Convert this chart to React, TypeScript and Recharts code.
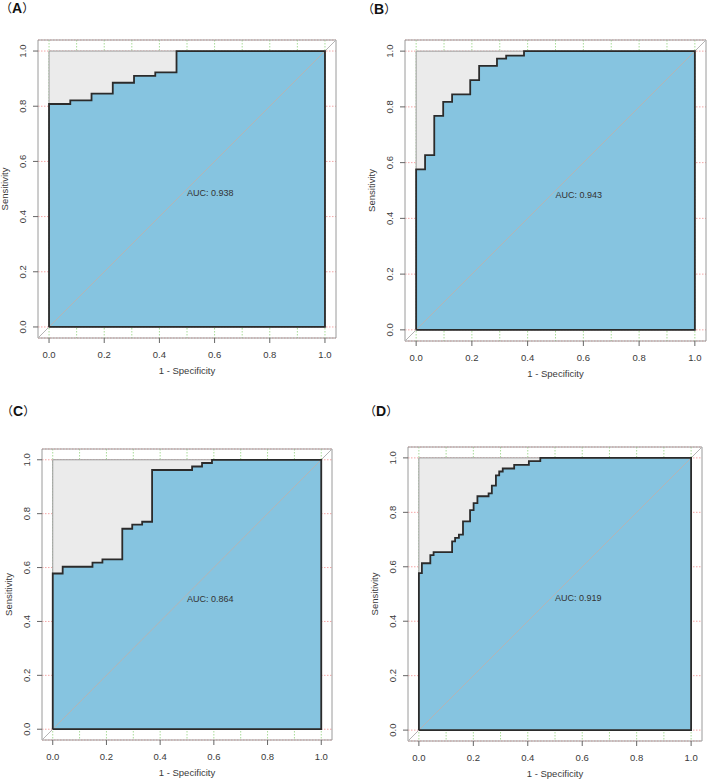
import {
  ComposedChart, Area, Line, XAxis, YAxis, CartesianGrid, ReferenceArea, ReferenceDot,
} from 'recharts'

const FONT = '"Liberation Sans", Arial, Helvetica, sans-serif'
const BLUE = '#86C4E0'
const GREY_FILL = '#EBEBEB'

// ROC points (1 - specificity, sensitivity)
const A_FPR = [0, 0.077, 0.154, 0.231, 0.308, 0.385, 0.462, 1]
const A_TPR = [0.808, 0.821, 0.846, 0.885, 0.910, 0.923, 1, 1]

const B_FPR = [0, 0.032, 0.065, 0.097, 0.129, 0.194, 0.226, 0.290, 0.323, 0.387, 1]
const B_TPR = [0.576, 0.627, 0.768, 0.818, 0.845, 0.896, 0.947, 0.973, 0.984, 1, 1]

const C_FPR = [0, 0.037, 0.148, 0.185, 0.259, 0.296, 0.333, 0.370, 0.519, 0.556, 0.593, 1]
const C_TPR = [0.578, 0.603, 0.618, 0.630, 0.744, 0.759, 0.770, 0.962, 0.975, 0.988, 1, 1]

const D_FPR = [0, 0.011, 0.042, 0.054, 0.122, 0.133, 0.147, 0.162, 0.188, 0.201, 0.215, 0.256, 0.268, 0.283, 0.295, 0.308, 0.350, 0.404, 0.446, 1]
const D_TPR = [0.577, 0.613, 0.643, 0.654, 0.693, 0.706, 0.718, 0.767, 0.808, 0.834, 0.859, 0.870, 0.898, 0.936, 0.950, 0.961, 0.974, 0.988, 1, 1]

const AUC = ['0.938', '0.943', '0.864', '0.919']
const LABELS = ['A', 'B', 'C', 'D']

const AXIS_TICKS = [0, 0.2, 0.4, 0.6, 0.8, 1]
const FINE_TICKS = [0, 0.1, 0.2, 0.3, 0.4, 0.5, 0.6, 0.7, 0.8, 0.9, 1]
const DOMAIN: [number, number] = [-0.04, 1.04]

// unit square and chance diagonal
const SQUARE = [{ x: 0, y: 1 }, { x: 1, y: 1 }]
const SQUARE_EDGE = [{ x: 0, y: 0 }, { x: 0, y: 1 }, { x: 1, y: 1 }, { x: 1, y: 0 }, { x: 0, y: 0 }]
const DIAG = [{ x: DOMAIN[0], y: DOMAIN[0] }, { x: DOMAIN[1], y: DOMAIN[1] }]

// plot box for each panel (page px)
const BOXES = [
  { l: 38, t: 40, w: 298, h: 298 },
  { l: 405, t: 40, w: 301, h: 301 },
  { l: 42, t: 449, w: 290, h: 291 },
  { l: 408, t: 447, w: 294, h: 294 },
]
const TAGS = [
  { l: 0, t: 0 },
  { l: 362, t: 1 },
  { l: 1, t: 403 },
  { l: 364, t: 403 },
]

const YW = 45
const XH = 45
const M = { top: 5, right: 3, left: 0, bottom: 0 }

const XTick = (p: any) => (
  <text x={p.x} y={p.y + 13} textAnchor="middle" fontSize={9.5} fill="#3a3a3a" fontFamily={FONT}>
    {Number(p.payload.value).toFixed(1)}
  </text>
)

const YTick = (p: any) => {
  const cx = p.x - 5
  return (
    <text x={cx} y={p.y} transform={`rotate(-90, ${cx}, ${p.y})`} textAnchor="middle" fontSize={9.5} fill="#3a3a3a" fontFamily={FONT}>
      {Number(p.payload.value).toFixed(1)}
    </text>
  )
}

function RocPanel({ fpr, tpr, auc, box }: { fpr: number[]; tpr: number[]; auc: string; box: { l: number; t: number; w: number; h: number } }) {
  const pts = [{ x: 0, y: 0 }, ...fpr.map((x, i) => ({ x, y: tpr[i] }))]
  const outline = [...pts, { x: 1, y: 0 }, { x: 0, y: 0 }]
  const width = box.w + YW + M.right
  const height = box.h + M.top + XH

  return (
    <div style={{ position: 'absolute', left: box.l - YW, top: box.t - M.top }}>
      <ComposedChart width={width} height={height} margin={M}>
        <CartesianGrid horizontal={true} vertical={false} stroke="#F4A6A6" strokeDasharray="1.5 1.5" />
        <CartesianGrid horizontal={false} vertical={true} verticalValues={FINE_TICKS} stroke="#A8DC98" strokeDasharray="1.5 1.5" />
        <XAxis
          dataKey="x" type="number" domain={DOMAIN} allowDataOverflow ticks={AXIS_TICKS}
          height={XH} axisLine={false} tickSize={5} tickLine={{ stroke: '#666' }} tick={<XTick />}
          label={{
            content: (lp: any) => {
              const vb = lp.viewBox
              return (
                <text x={vb.x + vb.width / 2} y={vb.y + 36} textAnchor="middle" fontSize={9.5} fill="#3a3a3a" fontFamily={FONT}>
                  1 - Specificity
                </text>
              )
            },
          }}
        />
        <YAxis
          dataKey="y" type="number" domain={DOMAIN} allowDataOverflow ticks={AXIS_TICKS}
          width={YW} axisLine={false} tickSize={5} tickLine={{ stroke: '#666' }} tick={<YTick />}
          label={{
            content: (lp: any) => {
              const vb = lp.viewBox
              const cx = vb.x + vb.width - 30
              const cy = vb.y + vb.height / 2
              return (
                <text x={cx} y={cy} transform={`rotate(-90, ${cx}, ${cy})`} textAnchor="middle" fontSize={9.5} fill="#3a3a3a" fontFamily={FONT}>
                  Sensitivity
                </text>
              )
            },
          }}
        />
        <ReferenceArea x1={DOMAIN[0]} x2={DOMAIN[1]} y1={DOMAIN[0]} y2={DOMAIN[1]} fill="none" stroke="#9A9A9A" strokeWidth={1} ifOverflow="visible" />
        <Area data={SQUARE} dataKey="y" type="linear" baseValue={0} fill={GREY_FILL} fillOpacity={1} stroke="none" dot={false} activeDot={false} isAnimationActive={false} />
        <Area data={pts} dataKey="y" type="stepAfter" baseValue={0} fill={BLUE} fillOpacity={1} stroke="none" dot={false} activeDot={false} isAnimationActive={false} />
        <Line data={SQUARE_EDGE} dataKey="y" type="linear" stroke="#9A9A9A" strokeWidth={1} dot={false} activeDot={false} isAnimationActive={false} />
        <Line data={DIAG} dataKey="y" type="linear" stroke="#B4B4B4" strokeWidth={1} dot={false} activeDot={false} isAnimationActive={false} />
        <Line data={outline} dataKey="y" type="stepAfter" stroke="#2B2B2B" strokeWidth={1.8} dot={false} activeDot={false} isAnimationActive={false} />
        <ReferenceDot
          x={0.5} y={0.5} r={1} fill="none" stroke="none"
          label={{
            content: (lp: any) => {
              const vb = lp.viewBox
              return (
                <text x={vb.x + vb.width / 2} y={vb.y + vb.height / 2 + 7} textAnchor="start" fontSize={9} fill="#333" fontFamily={FONT}>
                  {`AUC: ${auc}`}
                </text>
              )
            },
          }}
        />
      </ComposedChart>
    </div>
  )
}

export default function App() {
  const panels = [
    { fpr: A_FPR, tpr: A_TPR },
    { fpr: B_FPR, tpr: B_TPR },
    { fpr: C_FPR, tpr: C_TPR },
    { fpr: D_FPR, tpr: D_TPR },
  ]
  return (
    <div style={{ position: 'absolute', left: 0, top: 0, width: 709, height: 782, overflow: 'hidden', background: '#fff' }}>
      {panels.map((p, i) => (
        <RocPanel key={i} fpr={p.fpr} tpr={p.tpr} auc={AUC[i]} box={BOXES[i]} />
      ))}
      {TAGS.map((t, i) => (
        <div key={i} style={{ position: 'absolute', left: t.l, top: t.t, fontSize: 12, lineHeight: '16px', color: '#111', whiteSpace: 'nowrap' }}>
          <span style={{ fontFamily: '"Noto Sans CJK SC"' }}>（</span>
          <span style={{ fontFamily: FONT, fontWeight: 700, fontSize: 14 }}>{LABELS[i]}</span>
          <span style={{ fontFamily: '"Noto Sans CJK SC"' }}>）</span>
        </div>
      ))}
    </div>
  )
}
